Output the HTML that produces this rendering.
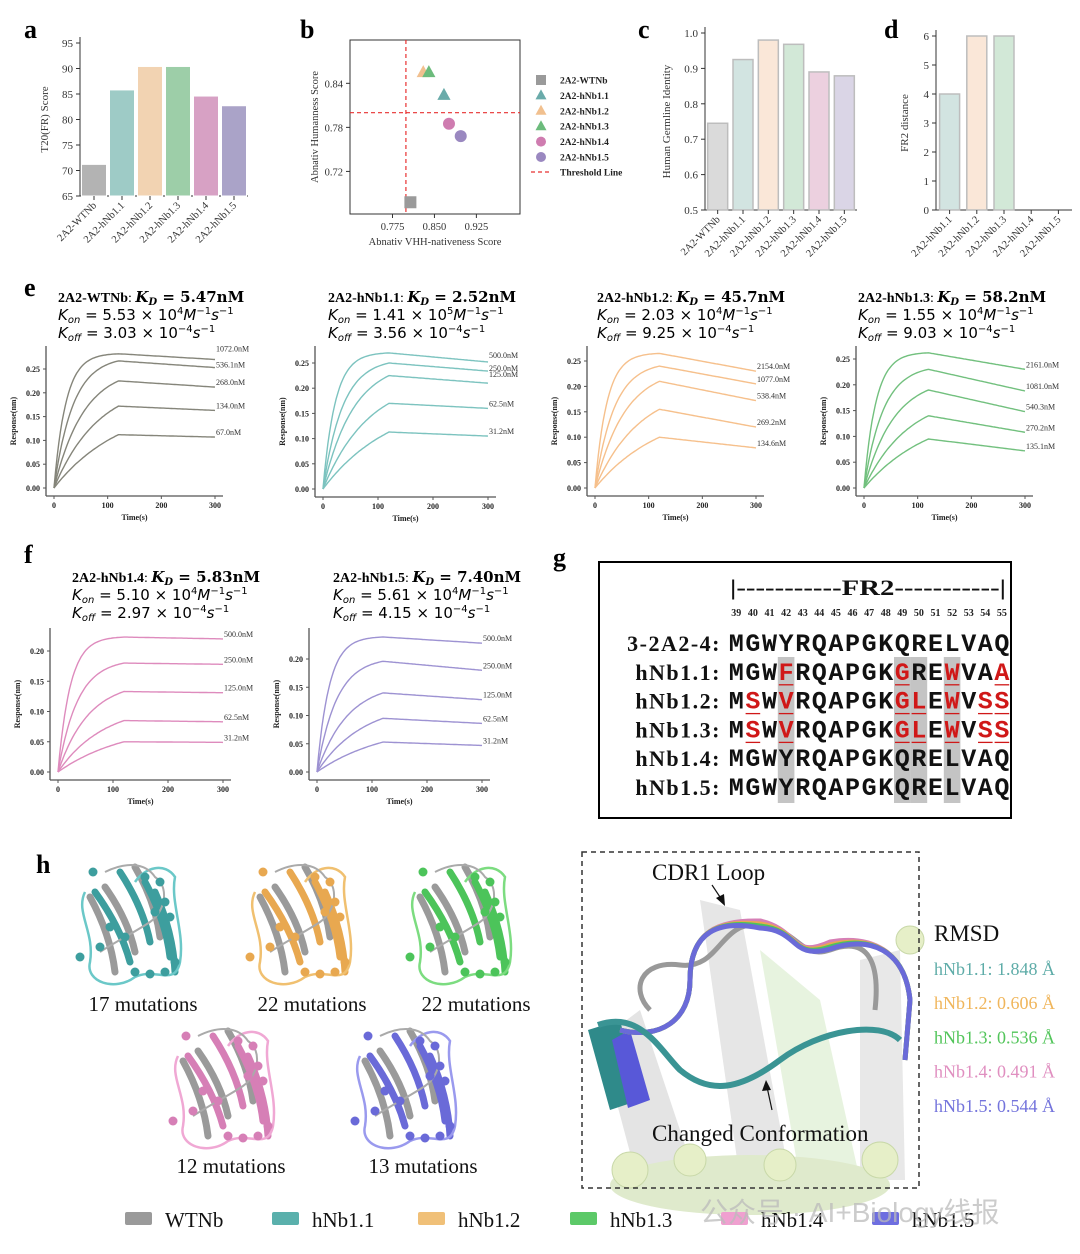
<!DOCTYPE html>
<html><head><meta charset="utf-8"><style>
html,body{margin:0;padding:0;background:#fff;}
svg{display:block;font-family:"Liberation Serif","Noto Serif CJK SC",serif;}
.mono{font-family:"Liberation Mono",monospace;font-weight:bold;}
.math{font-family:"DejaVu Sans",sans-serif;}
.mathb{font-family:"DejaVu Serif",serif;font-weight:bold;}
</style></head><body>
<svg id="fig" width="1080" height="1254" viewBox="0 0 1080 1254" xmlns="http://www.w3.org/2000/svg">
<g id="static">
<text x="24" y="38" font-size="26" font-weight="bold">a</text>
<text x="300" y="38" font-size="26" font-weight="bold">b</text>
<text x="638" y="38" font-size="26" font-weight="bold">c</text>
<text x="884" y="38" font-size="26" font-weight="bold">d</text>
<text x="24" y="296" font-size="26" font-weight="bold">e</text>
<text x="24" y="563" font-size="26" font-weight="bold">f</text>
<text x="553" y="566" font-size="26" font-weight="bold">g</text>
<text x="36" y="873" font-size="26" font-weight="bold">h</text>
</g>
<g id="charts"></g>
<g id="seq"></g>
<g id="prot"></g>
</svg>
<script>
// ===== DATA =====
const catsA = ["2A2-WTNb","2A2-hNb1.1","2A2-hNb1.2","2A2-hNb1.3","2A2-hNb1.4","2A2-hNb1.5"];
const valsA = [71.2, 85.8, 90.4, 90.4, 84.6, 82.7];
const ticksA = [65,70,75,80,85,90,95];
const catsB = ["2A2-WTNb","2A2-hNb1.1","2A2-hNb1.2","2A2-hNb1.3","2A2-hNb1.4","2A2-hNb1.5"];
const xB = [0.807, 0.867, 0.830, 0.840, 0.876, 0.897];
const yB = [0.678, 0.824, 0.855, 0.855, 0.785, 0.768];
const shapesB = ["square","triangle","triangle","triangle","circle","circle"];
const thresholdX = 0.799, thresholdY = 0.80;
const xTicksB = [0.775, 0.850, 0.925];
const yTicksB = [0.72, 0.78, 0.84];
const catsC = catsA;
const valsC = [0.745, 0.925, 0.98, 0.968, 0.89, 0.879];
const ticksC = [0.5,0.6,0.7,0.8,0.9,1.0];
const catsD = ["2A2-hNb1.1","2A2-hNb1.2","2A2-hNb1.3","2A2-hNb1.4","2A2-hNb1.5"];
const valsD = [4, 6, 6, 0, 0];
const ticksD = [0,1,2,3,4,5,6];
const concE1 = ["1072.0nM","536.1nM","268.0nM","134.0nM","67.0nM"];
const peakE1 = [0.282, 0.267, 0.225, 0.172, 0.112];
const endE1 = [0.270, 0.253, 0.212, 0.163, 0.107];
const concE2 = ["500.0nM","250.0nM","125.0nM","62.5nM","31.2nM"];
const peakE2 = [0.270, 0.250, 0.225, 0.170, 0.113];
const endE2 = [0.252, 0.234, 0.210, 0.160, 0.105];
const concE3 = ["2154.0nM","1077.0nM","538.4nM","269.2nM","134.6nM"];
const peakE3 = [0.265, 0.240, 0.210, 0.155, 0.100];
const endE3 = [0.230, 0.205, 0.172, 0.120, 0.079];
const concE4 = ["2161.0nM","1081.0nM","540.3nM","270.2nM","135.1nM"];
const peakE4 = [0.262, 0.230, 0.190, 0.140, 0.095];
const endE4 = [0.230, 0.188, 0.148, 0.108, 0.072];
const concF1 = ["500.0nM","250.0nM","125.0nM","62.5nM","31.2nM"];
const peakF1 = [0.223, 0.180, 0.133, 0.085, 0.050];
const endF1 = [0.220, 0.178, 0.131, 0.083, 0.049];
const concF2 = ["500.0nM","250.0nM","125.0nM","62.5nM","31.2nM"];
const peakF2 = [0.239, 0.196, 0.140, 0.095, 0.053];
const endF2 = [0.228, 0.180, 0.128, 0.086, 0.047];
const ratesK = [0.045, 0.028, 0.018, 0.012, 0.008];
const yTicksE = [0,0.05,0.10,0.15,0.20,0.25];
const yTicksF = [0,0.05,0.10,0.15,0.20];
const xTicksK = [0,100,200,300];

// ===== HELPERS =====
const NS="http://www.w3.org/2000/svg";
const root=document.getElementById('charts');
function mk(tag,attrs,parent,text){const e=document.createElementNS(NS,tag);for(const k in attrs)e.setAttribute(k,attrs[k]);if(text!==undefined)e.textContent=text;(parent||root).appendChild(e);return e;}
function lin(d0,d1,r0,r1){return v=>r0+(v-d0)*(r1-r0)/(d1-d0);}

// ===== BAR CHART =====
function barChart(o){
  const g=mk('g',{});
  
  
  const y=lin(o.vmin,o.vmax,o.y0,o.y1);
  const step=(o.x1-o.x0)/o.cats.length;
  mk('line',{x1:o.x0,y1:o.y0,x2:o.x0,y2:o.y1-6,stroke:'#333','stroke-width':1},g);
  mk('line',{x1:o.x0,y1:o.y0,x2:o.x1,y2:o.y0,stroke:'#333','stroke-width':1},g);
  o.ticks.forEach(t=>{mk('line',{x1:o.x0-4,x2:o.x0,y1:y(t),y2:y(t),stroke:'#333'},g);
    const tl=mk('text',{x:o.x0-7,y:y(t)+4,'font-size':11,'text-anchor':'end',fill:'#333'},g,o.fmt(t));
    
    });
  o.cats.forEach((c,i)=>{
    const cx=o.x0+step*(i+0.5);
    if(o.vals[i]>o.vmin){
      const r=mk('rect',{x:cx-o.bw/2,y:y(o.vals[i]),width:o.bw,height:o.y0-y(o.vals[i]),fill:o.colors[i],stroke:o.stroke||'#fff','stroke-width':o.stroke?1.5:1},g);
      
      
    }
    mk('line',{x1:cx,x2:cx,y1:o.y0,y2:o.y0+4,stroke:'#333'},g);
    const t=mk('text',{x:cx+3,y:o.y0+10,'font-size':10.5,'text-anchor':'end',fill:'#333',transform:`rotate(-45 ${cx+3} ${o.y0+10})`},g,c);
    
    
  });
  const yl=mk('text',{x:o.ylx,y:(o.y0+o.y1)/2,'font-size':11,'text-anchor':'middle',fill:'#333',transform:`rotate(-90 ${o.ylx} ${(o.y0+o.y1)/2})`},g,o.ylabel);
  
  
}
barChart({name:'chart-a-t20',x0:80,x1:248,y0:196,y1:43,vmin:65,vmax:95,cats:catsA,vals:valsA,ticks:ticksA,bw:25,fmt:t=>t,
  colors:['#b3b3b3','#9ecbc6','#f2d3b2','#9dcea8','#d7a1c4','#aaa3c8'],ylabel:'T20(FR) Score',ylx:48});
barChart({name:'chart-c-germline',x0:705,x1:857,y0:210,y1:33,vmin:0.5,vmax:1.0,cats:catsC,vals:valsC,ticks:ticksC,bw:20,fmt:t=>t.toFixed(1),stroke:'#bdbdbd',
  colors:['#dadada','#d2e4e1','#fae7d8','#d2e8d7','#ecd0df','#dad5e6'],ylabel:'Human Germline Identity',ylx:670});
barChart({name:'chart-d-fr2',x0:936,x1:1072,y0:210,y1:36,vmin:0,vmax:6,cats:catsD,vals:valsD,ticks:ticksD,bw:20,fmt:t=>t,stroke:'#bdbdbd',
  colors:['#d2e4e1','#fae7d8','#d2e8d7','#ecd0df','#dad5e6'],ylabel:'FR2 distance',ylx:908});

// ===== SCATTER B =====
(function(){
  const g=mk('g',{});
  
  
  const X=lin(0.699,1.003,350,520), Y=lin(0.662,0.899,214,40);
  mk('rect',{x:350,y:40,width:170,height:174,fill:'none',stroke:'#333'},g);
  xTicksB.forEach(t=>{mk('line',{x1:X(t),x2:X(t),y1:214,y2:218,stroke:'#333'},g);mk('text',{x:X(t),y:230,'font-size':10.5,'text-anchor':'middle',fill:'#333'},g,t.toFixed(3));});
  yTicksB.forEach(t=>{mk('line',{x1:346,x2:350,y1:Y(t),y2:Y(t),stroke:'#333'},g);mk('text',{x:343,y:Y(t)+4,'font-size':10.5,'text-anchor':'end',fill:'#333'},g,t.toFixed(2));});
  mk('line',{x1:X(thresholdX),x2:X(thresholdX),y1:40,y2:214,stroke:'#e83030','stroke-dasharray':'4 3','stroke-width':1.2},g);
  mk('line',{x1:350,x2:520,y1:Y(thresholdY),y2:Y(thresholdY),stroke:'#e83030','stroke-dasharray':'4 3','stroke-width':1.2},g);
  const cols=['#9a9a9a','#6aabaa','#f1c08f','#6cbb7c','#cf7cb0','#9a88c0'];
  function marker(shape,x,y,c,s,parent){
    if(shape==='square')return mk('rect',{x:x-s,y:y-s,width:2*s,height:2*s,fill:c},parent);
    if(shape==='triangle')return mk('polygon',{points:`${x},${y-s*1.2} ${x-s*1.1},${y+s*0.8} ${x+s*1.1},${y+s*0.8}`,fill:c},parent);
    return mk('circle',{cx:x,cy:y,r:s,fill:c},parent);
  }
  catsB.forEach((c,i)=>{const m=marker(shapesB[i],X(xB[i]),Y(yB[i]),cols[i],6,g);
    
    });
  mk('text',{x:435,y:245,'font-size':10.5,'text-anchor':'middle',fill:'#333'},g,'Abnativ VHH-nativeness Score');
  mk('text',{x:318,y:127,'font-size':10.5,'text-anchor':'middle',fill:'#333',transform:'rotate(-90 318 127)'},g,'Abnativ Humanness Score');
  const lg=mk('g',{},g);
  
  
  catsB.forEach((c,i)=>{const yy=80+i*15.4;marker(shapesB[i],541,yy,cols[i],5,lg);
    const t=mk('text',{x:560,y:yy+3.5,'font-size':9.5,'font-weight':'bold',fill:'#222'},lg,c);
    
    });
  mk('line',{x1:531,x2:552,y1:172,y2:172,stroke:'#e83030','stroke-dasharray':'4 3','stroke-width':1.2},lg);
  mk('text',{x:560,y:175.5,'font-size':9.5,'font-weight':'bold',fill:'#222'},lg,'Threshold Line');
})();

// ===== KINETICS =====
function kin(o){
  const g=mk('g',{});
  
  
  const X=lin(0,300,o.xa,o.xb), Y=lin(0,o.ymax,o.ya,o.yb);
  const sx=o.xa-8, by=o.ya+8;
  mk('line',{x1:sx,x2:sx,y1:o.top,y2:by,stroke:'#555','stroke-width':1.3},g);
  mk('line',{x1:sx,x2:o.xb+8,y1:by,y2:by,stroke:'#555','stroke-width':1.3},g);
  o.yt.forEach(t=>{mk('line',{x1:sx-3,x2:sx,y1:Y(t),y2:Y(t),stroke:'#555'},g);mk('text',{x:sx-6,y:Y(t)+3,'font-size':8,'font-weight':'bold','text-anchor':'end',fill:'#222'},g,t.toFixed(2));});
  xTicksK.forEach(t=>{mk('line',{x1:X(t),x2:X(t),y1:by,y2:by+3,stroke:'#555'},g);mk('text',{x:X(t),y:by+12,'font-size':8,'font-weight':'bold','text-anchor':'middle',fill:'#222'},g,t);});
  mk('text',{x:(o.xa+o.xb)/2,y:by+24,'font-size':8,'font-weight':'bold','text-anchor':'middle',fill:'#222'},g,'Time(s)');
  const ym=(o.top+by)/2;
  mk('text',{x:sx-30,y:ym,'font-size':8,'font-weight':'bold','text-anchor':'middle',fill:'#222',transform:`rotate(-90 ${sx-30} ${ym})`},g,'Response(nm)');
  o.conc.forEach((c,i)=>{
    const P=o.peak[i],E=o.end[i],k=ratesK[i];const norm=1-Math.exp(-k*120);
    let d='';
    for(let t=0;t<=300;t+=3){let v;
      if(t<=120)v=P*(1-Math.exp(-k*t))/norm; else v=P+(E-P)*(t-120)/180;
      d+=(t?'L':'M')+X(t).toFixed(1)+','+Y(v).toFixed(1);}
    const p=mk('path',{d:d,fill:'none',stroke:o.color,'stroke-width':1.4},g);
    
    
    const lt=mk('text',{x:X(300)+1,y:Y(E)-2+(o.loff?o.loff[i]:0),'font-size':8,fill:'#333'},g,c);
    
    
  });
  const tx=o.tx,ty=o.ty;
  const t1=mk('text',{x:tx,y:ty,'font-size':14,fill:'#000'},g);
  
  
  mk('tspan',{'font-weight':'bold'},t1,o.title);mk('tspan',{},t1,': ');
  mk('tspan',{class:'mathb','font-style':'italic','font-size':15},t1,'K');mk('tspan',{'font-size':10,dy:3,class:'mathb','font-style':'italic'},t1,'D');
  mk('tspan',{dy:-3,class:'mathb','font-size':15},t1,' = '+o.kd);
  const t2=mk('text',{x:tx,y:ty+18,'font-size':15,fill:'#000',class:'math'},g);
  mk('tspan',{'font-style':'italic'},t2,'K');mk('tspan',{'font-size':10,dy:3,'font-style':'italic'},t2,'on');
  mk('tspan',{dy:-3},t2,' =  '+o.kon+' × 10');mk('tspan',{'font-size':10,dy:-6},t2,o.konE);
  mk('tspan',{dy:6,'font-style':'italic'},t2,'M');mk('tspan',{'font-size':10,dy:-6},t2,'−1');mk('tspan',{dy:6,'font-style':'italic'},t2,'s');mk('tspan',{'font-size':10,dy:-6},t2,'−1');
  const t3=mk('text',{x:tx,y:ty+36,'font-size':15,fill:'#000',class:'math'},g);
  mk('tspan',{'font-style':'italic'},t3,'K');mk('tspan',{'font-size':10,dy:3,'font-style':'italic'},t3,'off');
  mk('tspan',{dy:-3},t3,' = '+o.koff+' × 10');mk('tspan',{'font-size':10,dy:-6},t3,'−4');
  mk('tspan',{dy:6,'font-style':'italic'},t3,'s');mk('tspan',{'font-size':10,dy:-6},t3,'−1');
}
kin({name:'chart-e-wtnb',xa:54,xb:215,ya:488,yb:369,ymax:0.25,top:346,yt:yTicksE,conc:concE1,peak:peakE1,end:endE1,color:'#85857a',loff:[-6,2,0,0,0],tx:58,ty:302,title:'2A2-WTNb',kd:'5.47nM',kon:'5.53',konE:'4',koff:'3.03'});
kin({name:'chart-e-hnb11',xa:323,xb:488,ya:489,yb:363,ymax:0.25,top:346,yt:yTicksE,conc:concE2,peak:peakE2,end:endE2,color:'#7cc3bf',loff:[-2,2,-4,0,0],tx:328,ty:302,title:'2A2-hNb1.1',kd:'2.52nM',kon:'1.41',konE:'5',koff:'3.56'});
kin({name:'chart-e-hnb12',xa:595,xb:756,ya:488,yb:361,ymax:0.25,top:346,yt:yTicksE,conc:concE3,peak:peakE3,end:endE3,color:'#f6c08c',tx:597,ty:302,title:'2A2-hNb1.2',kd:'45.7nM',kon:'2.03',konE:'4',koff:'9.25'});
kin({name:'chart-e-hnb13',xa:864,xb:1025,ya:488,yb:359,ymax:0.25,top:346,yt:yTicksE,conc:concE4,peak:peakE4,end:endE4,color:'#72c07e',tx:858,ty:302,title:'2A2-hNb1.3',kd:'58.2nM',kon:'1.55',konE:'4',koff:'9.03'});
kin({name:'chart-f-hnb14',xa:58,xb:223,ya:772,yb:651,ymax:0.20,top:628,yt:yTicksF,conc:concF1,peak:peakF1,end:endF1,color:'#de8bbd',tx:72,ty:582,title:'2A2-hNb1.4',kd:'5.83nM',kon:'5.10',konE:'4',koff:'2.97'});
kin({name:'chart-f-hnb15',xa:317,xb:482,ya:772,yb:659,ymax:0.20,top:628,yt:yTicksF,conc:concF2,peak:peakF2,end:endF2,color:'#9d92d2',tx:333,ty:582,title:'2A2-hNb1.5',kd:'7.40nM',kon:'5.61',konE:'4',koff:'4.15'});

// ===== SEQUENCE PANEL G =====
(function(){
  const g=document.getElementById('seq');
  mk('rect',{x:599,y:562,width:412,height:256,fill:'none',stroke:'#000','stroke-width':2},g);
  const X0=728,W=16.6;
  [3,10,11,13].forEach(i=>mk('rect',{x:X0+W*i,y:657,width:W,height:146,fill:'#c4c4c4'},g));
  mk('text',{x:730,y:595,'font-size':22,'font-weight':'bold',textLength:276,lengthAdjust:'spacingAndGlyphs',fill:'#111'},g,'|-----------FR2-----------|');
  for(let i=0;i<17;i++)mk('text',{x:X0+W*i+W/2,y:616,'font-size':10,'font-weight':'bold','text-anchor':'middle',fill:'#222'},g,39+i);
  const rows=[["3-2A2-4:","MGWYRQAPGKQRELVAQ",[]],["hNb1.1:","MGWFRQAPGKGREWVAA",[3,10,13,16]],["hNb1.2:","MSWVRQAPGKGLEWVSS",[1,3,10,11,13,15,16]],["hNb1.3:","MSWVRQAPGKGLEWVSS",[1,3,10,11,13,15,16]],["hNb1.4:","MGWYRQAPGKQRELVAQ",[]],["hNb1.5:","MGWYRQAPGKQRELVAQ",[]]];
  rows.forEach((r,j)=>{
    const yy=651+j*28.8;
    const lb=mk('text',{x:721,y:yy,'font-size':22,'font-weight':'bold','text-anchor':'end','letter-spacing':1.5,fill:'#111'},g,r[0]);
    
    
    for(let i=0;i<17;i++){
      const red=r[2].includes(i);
      mk('text',{x:X0+W*i+W/2,y:yy,'font-size':25,'text-anchor':'middle',class:'mono',fill:red?'#d01818':'#111'},g,r[1][i]);
      if(red)mk('line',{x1:X0+W*i+1,x2:X0+W*(i+1)-1,y1:yy+5,y2:yy+5,stroke:'#d01818','stroke-width':1.3},g);
    }
  });
})();

// ===== STRUCTURES H =====
(function(){
  const g=document.getElementById('prot');
  function protein(cx,cy,col,light,nm){
    const p=mk('g',{transform:`translate(${cx} ${cy})`},g);
    
    
    const strands=[[-40,-30,-5,40],[-30,-35,0,30],[-15,-50,15,20],[0,-55,25,15],[10,-40,35,35],[-45,-25,-20,50],[20,-30,40,50]];
    strands.forEach((s,i)=>mk('path',{d:`M${s[0]},${s[1]} Q${(s[0]+s[2])/2+8},${(s[1]+s[3])/2} ${s[2]},${s[3]}`,stroke:i%2?'#9a9a9a':col,'stroke-width':7,fill:'none','stroke-linecap':'round'},p));
    mk('path',{d:'M-50,-30 C-60,-10 -40,10 -45,40 C-50,60 -20,70 0,55 C20,45 40,65 45,40 C50,10 35,-20 40,-45 C30,-60 10,-55 0,-40',stroke:light,'stroke-width':2.5,fill:'none'},p);
    mk('path',{d:'M-30,-50 C-10,-60 10,-60 20,-45 C35,-35 30,-10 15,0 C0,10 -20,20 -35,30',stroke:'#aaa','stroke-width':2,fill:'none'},p);
    [[-42,-50],[10,-45],[25,-40],[30,-20],[35,-5],[-35,25],[-10,15],[-55,35],[-25,5],[40,40],[30,50],[15,52],[0,50],[20,-10]].forEach(b=>mk('circle',{cx:b[0],cy:b[1],r:4.5,fill:col},p));
  }
  protein(135,922,'#3d9e9e','#6bc8c8','structure-hnb11');
  protein(305,922,'#e8a850','#f0c070','structure-hnb12');
  protein(465,922,'#4cc45a','#7cdc80','structure-hnb13');
  protein(228,1086,'#d67fb6','#f0a8d4','structure-hnb14');
  protein(410,1086,'#6a6ad8','#9a9aee','structure-hnb15');
  [['17 mutations',143],['22 mutations',312],['22 mutations',476]].forEach(a=>mk('text',{x:a[1],y:1011,'font-size':21,'text-anchor':'middle',fill:'#111'},g,a[0]));
  [['12 mutations',231],['13 mutations',423]].forEach(a=>mk('text',{x:a[1],y:1173,'font-size':21,'text-anchor':'middle',fill:'#111'},g,a[0]));
  const ov=mk('g',{},g);
  
  
  mk('rect',{x:582,y:852,width:337,height:336,fill:'#fff'},ov);
  mk('path',{d:'M600,1040 L640,1010 L700,1190 L640,1190 Z',fill:'#d8d8d8',opacity:0.7},ov);
  mk('path',{d:'M700,900 L740,910 L790,1180 L740,1180 Z',fill:'#e6e6e6'},ov);
  mk('path',{d:'M760,950 L820,1000 L860,1180 L800,1180 Z',fill:'#e4f2dc',opacity:0.9},ov);
  mk('path',{d:'M860,960 L900,950 L905,1180 L860,1180 Z',fill:'#e8e8e8'},ov);
  mk('ellipse',{cx:750,cy:1185,rx:140,ry:30,fill:'#dfeacc'},ov);
  [[630,1170,18],[690,1160,16],[780,1165,16],[880,1160,18],[910,940,14]].forEach(b=>mk('circle',{cx:b[0],cy:b[1],r:b[2],fill:'#e6efc8',stroke:'#c8d8a8'},ov));
  mk('path',{d:'M588,1030 L620,1020 L640,1100 L610,1110 Z',fill:'#2f8a8a'},ov);
  mk('path',{d:'M612,1040 L630,1030 L650,1100 L628,1108 Z',fill:'#5858d8'},ov);
  mk('path',{d:'M650,1010 C630,990 640,960 680,965 C720,970 720,920 760,925 C800,930 800,960 830,950 C870,935 880,965 875,1010',stroke:'#999','stroke-width':5,fill:'none'},ov);
  const loops=[['#d67fb6',-3],['#e8a850',0],['#4cc45a',2],['#6a6ad8',4]];
  loops.forEach(l=>mk('path',{d:`M620,1030 C660,1040 690,1020 690,980 C690,930 720,920 760,${924+l[1]} C800,930 790,960 830,${945+l[1]} C870,935 905,950 910,1000 L905,1060`,stroke:l[0],'stroke-width':5,fill:'none'},ov));
  mk('path',{d:'M598,1025 C640,1010 660,1050 680,1070 C710,1095 740,1090 780,1060 C820,1030 880,1020 900,1040',stroke:'#3a9494','stroke-width':6,fill:'none'},ov);
  mk('rect',{x:582,y:852,width:337,height:336,fill:'none',stroke:'#333','stroke-width':1.5,'stroke-dasharray':'5 4'},ov);
  mk('text',{x:652,y:880,'font-size':23,fill:'#111'},ov,'CDR1 Loop');
  mk('line',{x1:712,y1:885,x2:722,y2:900,stroke:'#111','stroke-width':1.2},ov);
  mk('polygon',{points:'725,906 716,898 724,894',fill:'#111'},ov);
  mk('line',{x1:772,y1:1110,x2:767,y2:1087,stroke:'#111','stroke-width':1.2},ov);
  mk('polygon',{points:'766,1080 762,1091 771,1090',fill:'#111'},ov);
  mk('text',{x:652,y:1141,'font-size':23,fill:'#111'},ov,'Changed Conformation');
  mk('text',{x:934,y:941,'font-size':23,fill:'#111'},g,'RMSD');
  [['hNb1.1: 1.848 Å','#5eaca8'],['hNb1.2: 0.606 Å','#f0b65c'],['hNb1.3: 0.536 Å','#52c55a'],['hNb1.4: 0.491 Å','#e08fc0'],['hNb1.5: 0.544 Å','#7474dc']].forEach((r,i)=>{
    const t=mk('text',{x:934,y:975+i*34.2,'font-size':18,fill:r[1]},g,r[0]);
    
    });
  const lg=mk('g',{},g);
  
  
  [['WTNb','#9a9a9a',125],['hNb1.1','#5ab0ac',272],['hNb1.2','#f0c078',418],['hNb1.3','#5cc968',570],['hNb1.4','#f0a0d0',721],['hNb1.5','#6e6ee0',872]].forEach(l=>{
    mk('rect',{x:l[2],y:1212,width:27,height:13,fill:l[1],rx:2},lg);
    const t=mk('text',{x:l[2]+40,y:1227,'font-size':21,fill:'#111'},lg,l[0]);
    
    });
  const wm=mk('text',{x:700,y:1222,'font-size':28,fill:'#bbbbbb',opacity:0.75,'font-family':'"Liberation Sans","Noto Sans CJK SC",sans-serif'},g,'公众号 · AI+Biology线报');
  
  
})();
</script>
</body></html>
